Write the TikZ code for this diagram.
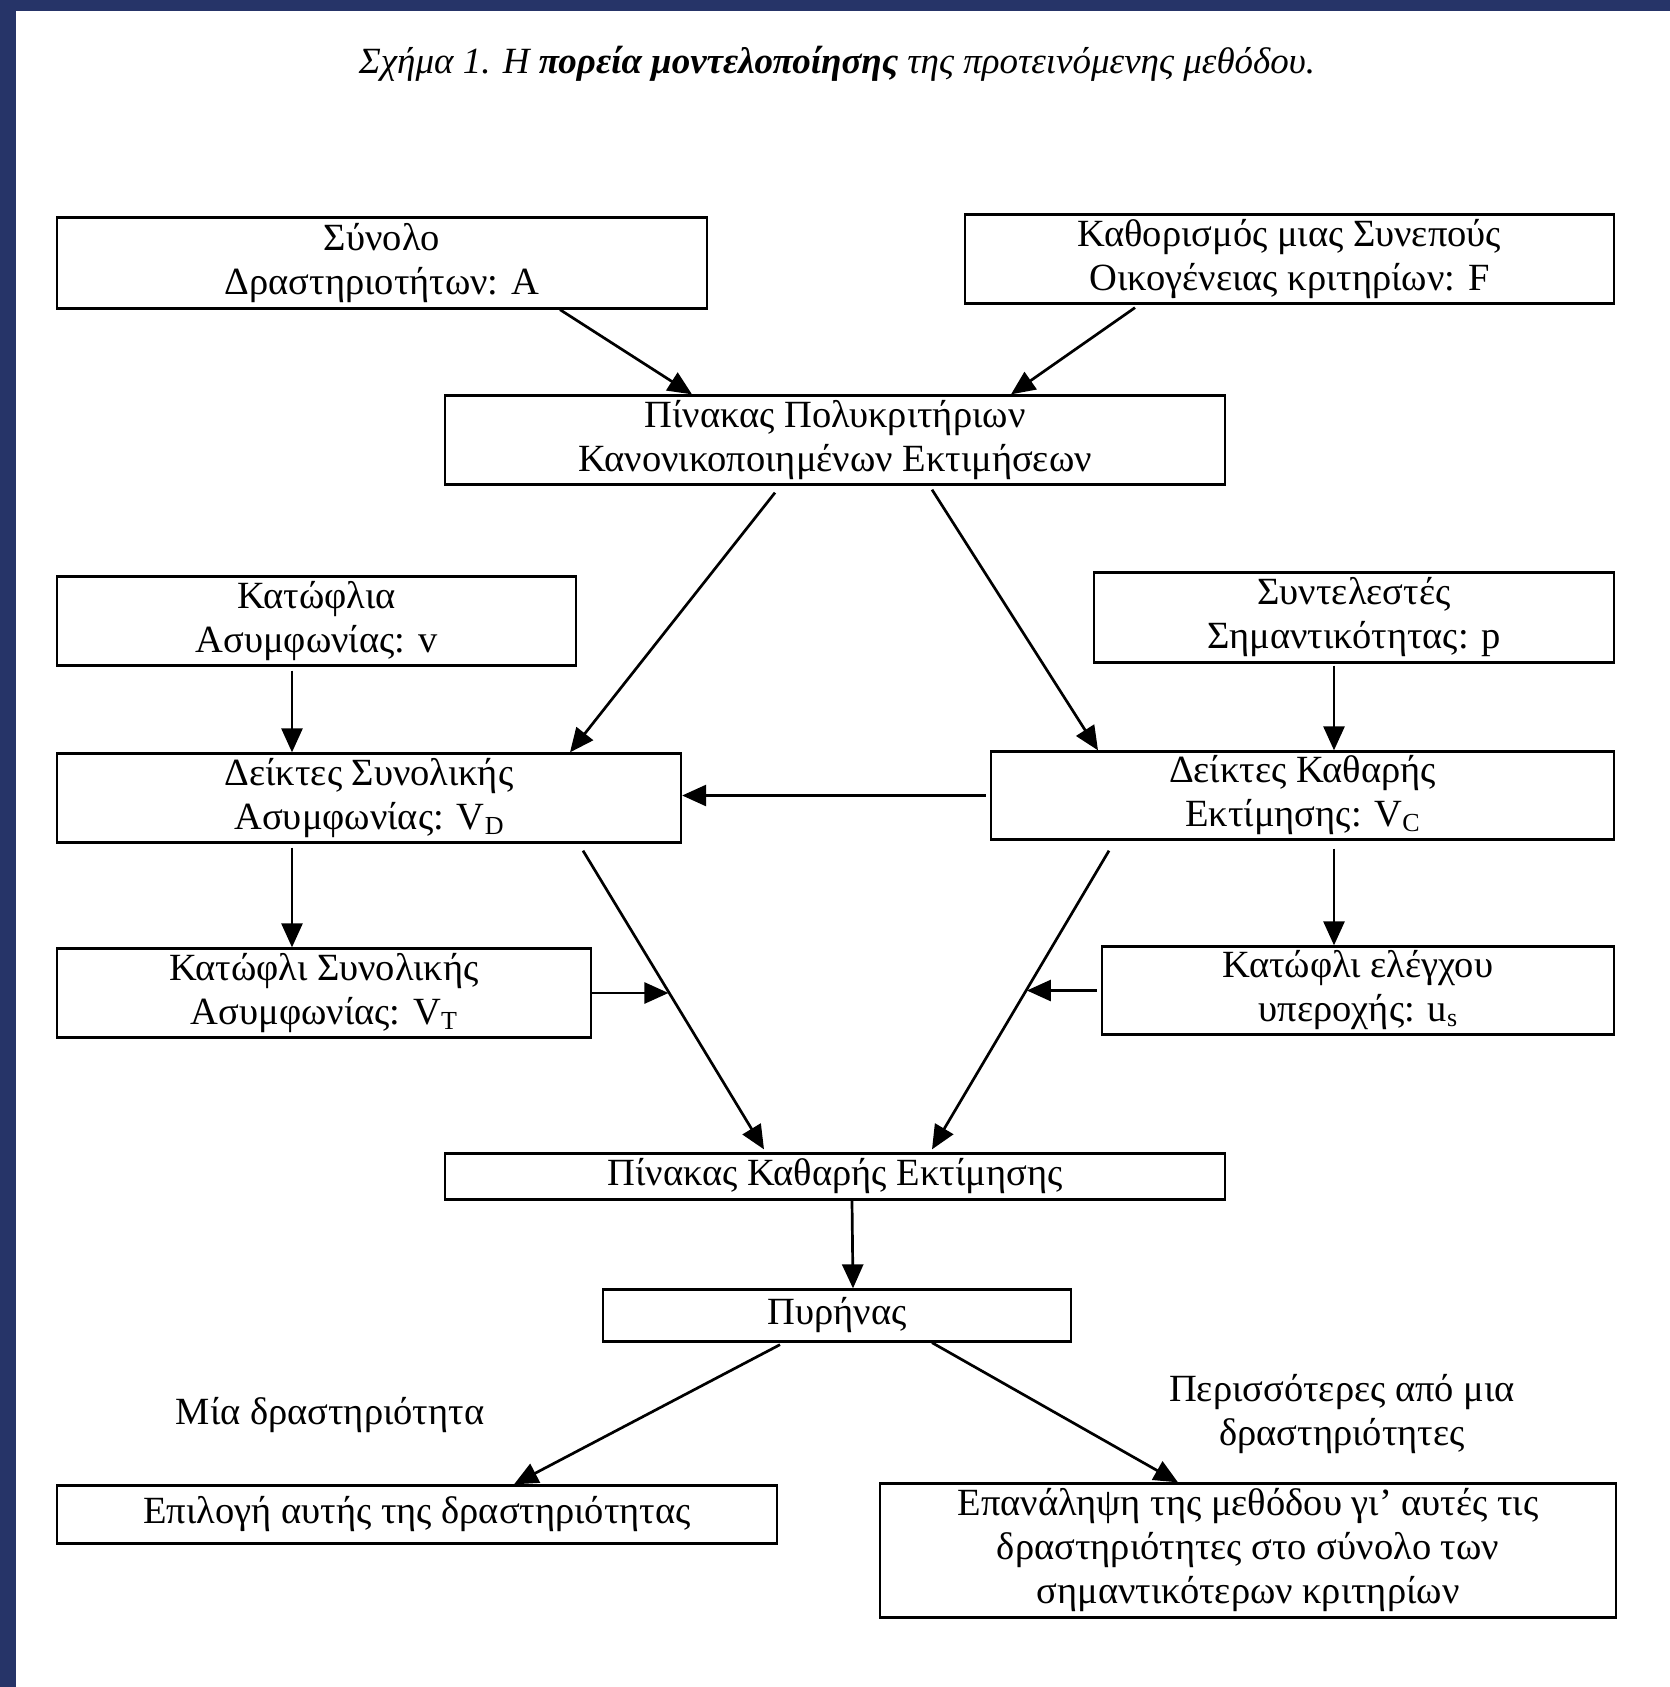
\documentclass[tikz,border=0pt]{standalone}
\usepackage{fontspec}
\setmainfont{Liberation Serif}
\usetikzlibrary{arrows.meta,calc}
\definecolor{navy}{RGB}{38,52,104}
\newcommand{\sbsc}[1]{\raisebox{-0.28ex}{\fontsize{26}{26}\selectfont #1}}
\begin{document}
\begin{tikzpicture}[x=1pt,y=-1pt,
  box/.style={draw,line width=2.3pt,inner sep=0pt,align=center,
    font=\fontsize{38.5}{44}\selectfont},
  lbl/.style={inner sep=0pt,align=center,font=\fontsize{38.5}{44}\selectfont},
  arr/.style={line width=2.7pt,-{Triangle[length=24pt,width=21pt]}},
  ln/.style={line width=2.7pt}]
% page
\useasboundingbox (0,0) rectangle (1670,1687);
\fill[white] (0,0) rectangle (1670,1687);
\fill[navy] (0,0) rectangle (16,1687);
\fill[navy] (0,0) rectangle (1670,11);
% title
\node[inner sep=0pt,font=\fontsize{37}{44}\selectfont\itshape] (title) at (837,64)
  {Σχήμα 1. Η \textbf{πορεία μοντελοποίησης} της προτεινόμενης μεθόδου.};
% boxes
\node[box,minimum width=650pt,minimum height=91pt] (A) at (382,263)
  {Σύνολο\\Δραστηριοτήτων: A};
\node[box,minimum width=649pt,minimum height=89pt] (F) at (1289.5,259)
  {Καθορισμός μιας Συνεπούς\\Οικογένειας κριτηρίων: F};
\node[box,minimum width=780pt,minimum height=89pt] (P1) at (835,440)
  {Πίνακας Πολυκριτήριων\\Κανονικοποιημένων Εκτιμήσεων};
\node[box,minimum width=519pt,minimum height=89pt] (KV) at (316.5,621)
  {Κατώφλια\\Ασυμφωνίας: v};
\node[box,minimum width=520pt,minimum height=90pt] (SP) at (1354,617.5)
  {Συντελεστές\\Σημαντικότητας: p};
\node[box,minimum width=624pt,minimum height=89pt] (DS) at (369,798)
  {Δείκτες Συνολικής\\Ασυμφωνίας: V\sbsc{D}};
\node[box,minimum width=623pt,minimum height=88pt] (DK) at (1302.5,795.5)
  {Δείκτες Καθαρής\\Εκτίμησης: V\sbsc{C}};
\node[box,minimum width=534pt,minimum height=89pt] (KS) at (324,993)
  {Κατώφλι Συνολικής\\Ασυμφωνίας: V\sbsc{T}};
\node[box,minimum width=512pt,minimum height=88pt] (KE) at (1358,990.5)
  {Κατώφλι ελέγχου\\υπεροχής: u\sbsc{s}};
\node[box,minimum width=780pt,minimum height=46pt] (PK) at (835,1176.5)
  {Πίνακας Καθαρής Εκτίμησης};
\node[box,minimum width=468pt,minimum height=52pt] (PY) at (837,1315.5)
  {Πυρήνας};
\node[box,minimum width=720pt,minimum height=58pt] (EP) at (417,1514.5)
  {Επιλογή αυτής της δραστηριότητας};
\node[box,minimum width=736pt,minimum height=134pt] (EA) at (1248,1550.5)
  {Επανάληψη της μεθόδου γι’ αυτές τις\\δραστηριότητες στο σύνολο των\\σημαντικότερων κριτηρίων};
% labels
\node[lbl] (L1) at (330,1415) {Μία δραστηριότητα};
\node[lbl] (L2) at (1342,1414) {Περισσότερες από μια\\δραστηριότητες};
% connectors
\draw[arr] ([xshift=178pt]A.south) -- ([xshift=-143pt]P1.north);
\draw[arr] ([xshift=-154.5pt,yshift=-3pt]F.south) -- ([xshift=176pt]P1.north);
\draw[arr] ([xshift=-60pt,yshift=-7pt]P1.south) -- ([xshift=201pt]DS.north);
\draw[arr] ([xshift=97pt,yshift=-4pt]P1.south) -- ([xshift=-204.5pt]DK.north);
\draw[arr] ([xshift=-24.5pt,yshift=-4pt]KV.south) -- ([xshift=-77pt]DS.north);
\draw[arr] ([xshift=-20pt,yshift=-2pt]SP.south) -- ([xshift=31.5pt]DK.north);
\draw[arr] ([xshift=-4pt]DK.west) -- (DK.west -| DS.east);
\draw[arr] ([xshift=-77pt,yshift=-4pt]DS.south) -- ([xshift=-32pt]KS.north);
\draw[arr] ([xshift=31.5pt,yshift=-8pt]DK.south) -- ([xshift=-24pt]KE.north);
\coordinate (d1s) at ([xshift=214pt,yshift=-7pt]DS.south);
\coordinate (d1e) at ([xshift=-71pt,yshift=3pt]PK.north);
\coordinate (d2s) at ([xshift=-193.5pt,yshift=-10pt]DK.south);
\coordinate (d2e) at ([xshift=97pt,yshift=3pt]PK.north);
\draw[arr] (d1s) -- (d1e);
\draw[arr] (d2s) -- (d2e);
\path (d1s) -- (d1e) coordinate[pos=0.472] (m1);
\path (d2s) -- (d2e) coordinate[pos=0.464] (m2);
\draw[arr] (KS.east) -- (KS.east -| m1);
\draw[arr] ([xshift=-4pt]KE.west) -- (KE.west -| m2);
\draw[arr] ([xshift=17pt]PK.south) -- ([xshift=16pt]PY.north);
\draw[arr] ([xshift=-57pt,yshift=-2pt]PY.south) -- ([xshift=97pt]EP.north);
\draw[arr] ([xshift=95pt]PY.south) -- ([xshift=-70pt]EA.north);
\end{tikzpicture}
\end{document}
